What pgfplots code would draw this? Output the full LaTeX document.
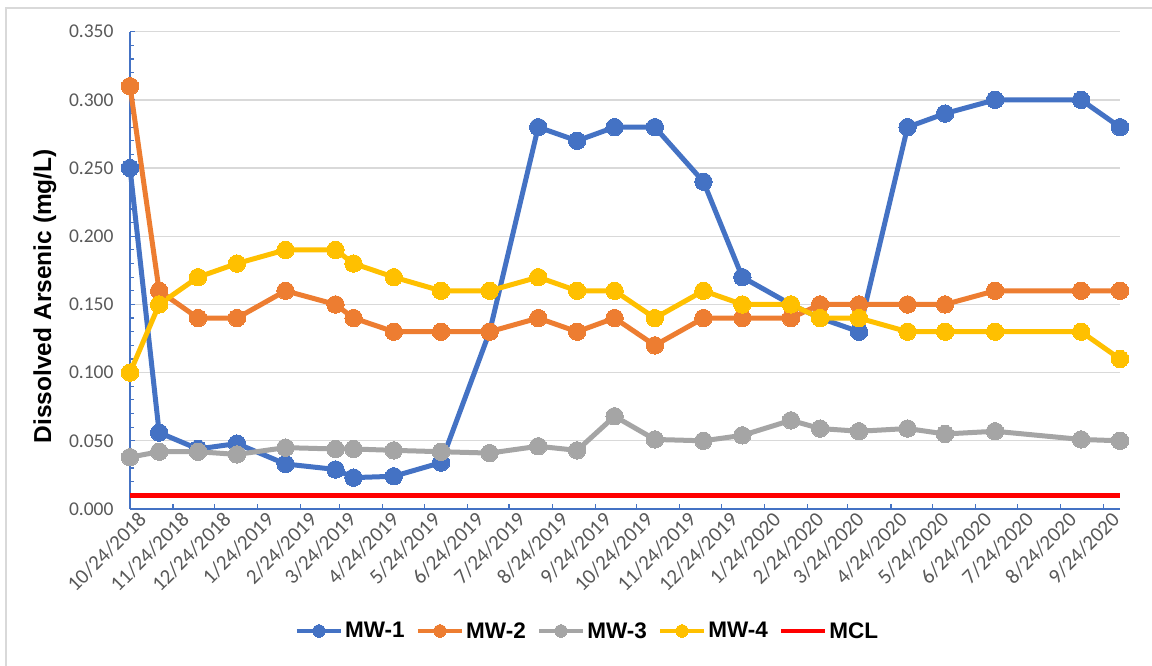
\documentclass[border=0pt]{standalone}
\usepackage{pgfplots}
\pgfplotsset{compat=1.18}
\usepackage{fontspec}
\setmainfont{Carlito}
\newfontfamily\arialf{Liberation Sans}
\definecolor{c1}{HTML}{4472C4}
\definecolor{c2}{HTML}{ED7D31}
\definecolor{c3}{HTML}{A5A5A5}
\definecolor{c4}{HTML}{FFC000}
\definecolor{gridc}{HTML}{D9D9D9}
\definecolor{tickc}{HTML}{595959}
\pgfplotstableread{
d mw1 mw2 mw3 mw4
0   0.250 0.310 0.038 0.100
21  0.056 0.160 0.042 0.150
49  0.044 0.140 0.042 0.170
77  0.048 0.140 0.040 0.180
112 0.033 0.160 0.045 0.190
148 0.029 0.150 0.044 0.190
161 0.023 0.140 0.044 0.180
190 0.024 0.130 0.043 0.170
224 0.034 0.130 0.042 0.160
259 0.130 0.130 0.041 0.160
294 0.280 0.140 0.046 0.170
322 0.270 0.130 0.043 0.160
349 0.280 0.140 0.068 0.160
378 0.280 0.120 0.051 0.140
413 0.240 0.140 0.050 0.160
441 0.170 0.140 0.054 0.150
476 0.150 0.140 0.065 0.150
497 0.140 0.150 0.059 0.140
525 0.130 0.150 0.057 0.140
560 0.280 0.150 0.059 0.130
587 0.290 0.150 0.055 0.130
623 0.300 0.160 0.057 0.130
685 0.300 0.160 0.051 0.130
713 0.280 0.160 0.050 0.110
}\datatable
\begin{document}
\begin{tikzpicture}[x=1pt,y=1pt]
\useasboundingbox (0,0) rectangle (1152,666);
\fill[white] (0,0) rectangle (1152,666);
\draw[gridc, line width=1.5pt] (6,0) -- (6,658) -- (1152,658);
\begin{axis}[
  at={(130pt,157pt)}, anchor=south west,
  scale only axis, width=990pt, height=477.3pt,
  xmin=0, xmax=713, ymin=0, ymax=0.35,
  clip=false,
  axis x line*=bottom, axis y line*=left,
  axis line style={c1, line width=1.3pt, -},
  tick align=inside,
  major tick length=5pt, minor tick length=4pt,
  tick style={c1, line width=1.2pt},
  xtick={0,31,61,92,123,151,182,212,243,273,304,335,365,396,426,457,488,517,548,578,609,639,670,701},
  xticklabels={10/24/2018,11/24/2018,12/24/2018,1/24/2019,2/24/2019,3/24/2019,4/24/2019,5/24/2019,6/24/2019,7/24/2019,8/24/2019,9/24/2019,10/24/2019,11/24/2019,12/24/2019,1/24/2020,2/24/2020,3/24/2020,4/24/2020,5/24/2020,6/24/2020,7/24/2020,8/24/2020,9/24/2020},
  xticklabel style={rotate=45, anchor=north east, font=\fontsize{21}{25}\selectfont, text=tickc, inner sep=2pt, yshift=-4pt, xshift=6pt},
  ytick={0,0.05,...,0.351},
  minor y tick num=4,
  yticklabel style={font=\fontsize{19.5}{23}\selectfont, text=tickc, xshift=-13pt,
    /pgf/number format/fixed, /pgf/number format/fixed zerofill, /pgf/number format/precision=3, /pgf/number format/assume math mode=true},
  ymajorgrids, major grid style={gridc, line width=1.3pt},
  ylabel={Dissolved Arsenic (mg/L)},
  ylabel style={at={(axis description cs:-0.086,0.446)}, anchor=center, font=\arialf\bfseries\fontsize{24.5}{28}\selectfont, text=black},
  legend columns=5,
  legend style={at={(axis description cs:0.462,-0.2556)}, anchor=center, draw=none, fill=none,
    font=\arialf\bfseries\fontsize{22.5}{27}\selectfont,
    /tikz/every even column/.append style={column sep=9pt},
    nodes={inner xsep=2pt}},
  legend image code/.code={\draw[mark repeat=2,mark phase=2,#1,mark size=6.3pt,line width=4.5pt] plot coordinates {(0pt,0pt) (22pt,0pt) (44pt,0pt)};},
]
\addplot[c1, line width=5pt, mark=*, mark size=8.7pt, mark options={fill=c1, draw=c1, line width=0pt}] table[x=d, y=mw1] {\datatable};
\addlegendentry{MW-1}
\addplot[c2, line width=5pt, mark=*, mark size=8.7pt, mark options={fill=c2, draw=c2, line width=0pt}] table[x=d, y=mw2] {\datatable};
\addlegendentry{MW-2}
\addplot[c3, line width=5pt, mark=*, mark size=8.7pt, mark options={fill=c3, draw=c3, line width=0pt}] table[x=d, y=mw3] {\datatable};
\addlegendentry{MW-3}
\addplot[c4, line width=5pt, mark=*, mark size=8.7pt, mark options={fill=c4, draw=c4, line width=0pt}] table[x=d, y=mw4] {\datatable};
\addlegendentry{MW-4}
\addplot[red, line width=5pt, no marks] coordinates {(0,0.010) (713,0.010)};
\addlegendentry{MCL}
\end{axis}
\end{tikzpicture}
\end{document}
